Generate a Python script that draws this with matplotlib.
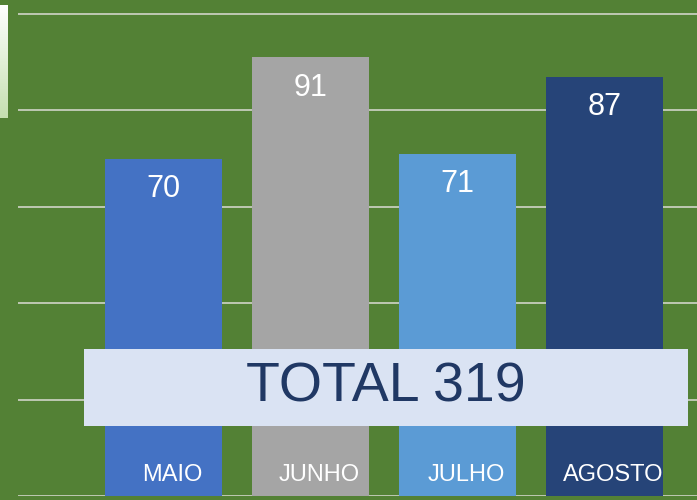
import numpy as np
import matplotlib.pyplot as plt
from matplotlib.patches import Rectangle
from matplotlib.colors import LinearSegmentedColormap

meses = ["MAIO", "JUNHO", "JULHO", "AGOSTO"]
valores = [70, 91, 71, 87]
cores = ["#4472C4", "#A5A5A5", "#5B9BD5", "#264478"]
total = sum(valores)

fonte = ["Liberation Sans Narrow", "Liberation Sans", "DejaVu Sans"]
verde = "#538135"

fig = plt.figure(figsize=(6.97, 5), dpi=100, facecolor=verde)
ax = fig.add_axes([18 / 697, 4 / 500, 1 - 18 / 697, 496 / 500])
ax.set_facecolor(verde)

x = np.arange(len(meses))
ax.bar(x, valores, width=0.8, color=cores, zorder=2)
ax.set_yticks([0, 20, 40, 60, 80, 100])
ax.grid(axis="y", color="#D0D5C8", linewidth=1.2, zorder=1)
ax.set_xlim(-0.99, 3.63)
ax.set_ylim(0, 102.9)
for s in ax.spines.values():
    s.set_visible(False)
ax.tick_params(left=False, bottom=False, labelleft=False, labelbottom=False)

for xi, v in zip(x, valores):
    ax.text(xi, v - 6.3, str(v), ha="center", va="center", color="white",
            fontsize=22, family=fonte, zorder=4)
    ax.text(xi + 0.06, 4.4, meses[xi], ha="center", va="center", color="white",
            fontsize=17, family=fonte, zorder=4)

# caixa do total
fig.patches.append(Rectangle((84 / 697, 74 / 500), 604 / 697, 77 / 500,
                             transform=fig.transFigure, facecolor="#DAE3F3",
                             edgecolor="none", zorder=5))
fig.text(386 / 697, 112 / 500, f"TOTAL {total}", ha="center", va="center",
         color="#203864", fontsize=40, family=fonte, zorder=6)

# pedaço da legenda em gradiente no canto
grad = np.linspace(0, 1, 100).reshape(-1, 1)
lax = fig.add_axes([0, 382 / 500, 8 / 697, 113 / 500])
lax.imshow(grad, aspect="auto",
           cmap=LinearSegmentedColormap.from_list("g", ["#FFFFFF", "#C5DFB0"]))
lax.axis("off")

fig.savefig("out.png", dpi=100, facecolor=verde)
